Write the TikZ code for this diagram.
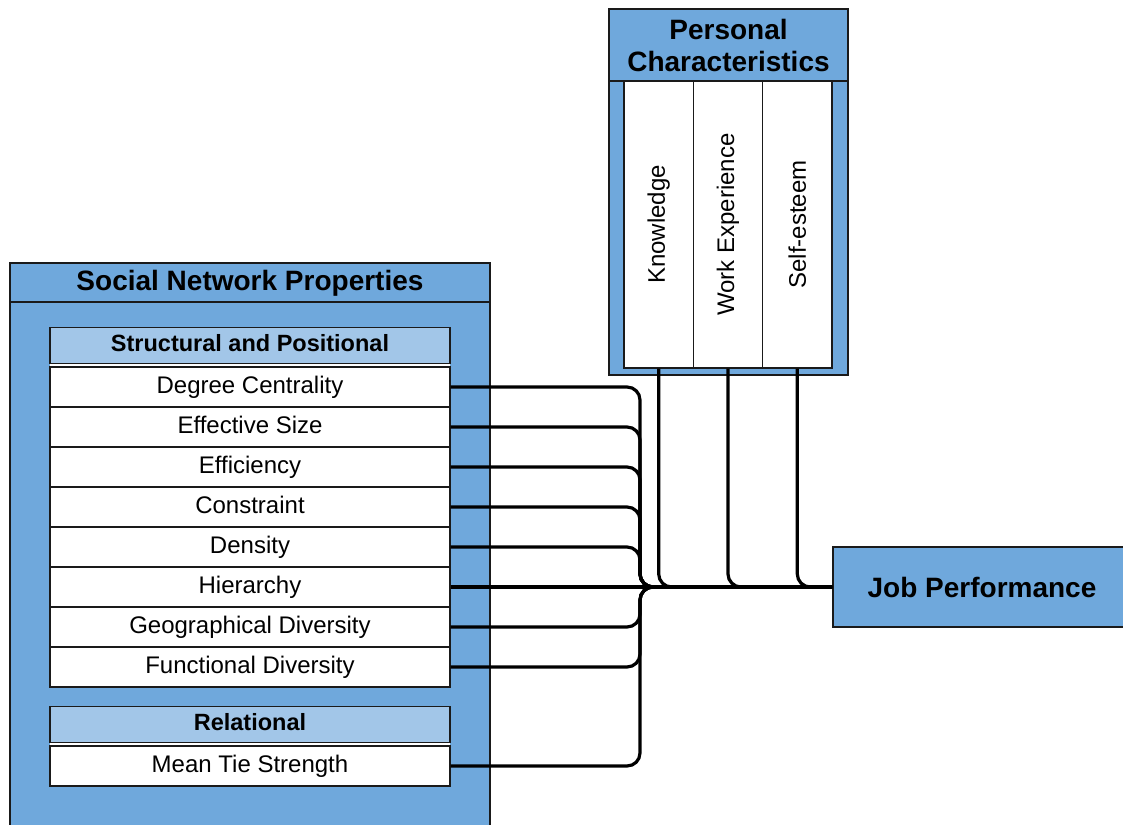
\documentclass[tikz,border=0pt]{standalone}
\usepackage{fontspec}
\setmainfont{Liberation Sans}
\usepackage{graphicx}
\definecolor{nblue}{HTML}{6FA8DC}
\definecolor{lblue}{HTML}{A2C6E8}
\definecolor{edgec}{HTML}{1A1A1A}
\begin{document}
\begin{tikzpicture}[x=1pt,y=-1pt,
  outerbox/.style={draw=edgec, line width=1.8pt, fill=nblue},
  sepline/.style={draw=edgec, line width=1.6pt},
  hdr/.style={draw=edgec, line width=1.3pt, fill=lblue, minimum width=400pt, minimum height=36pt, inner sep=0pt, text height=17pt, text depth=5pt, font=\fontsize{23.5}{27}\selectfont\bfseries},
  rowbox/.style={draw=edgec, line width=1.3pt, fill=white, minimum width=400pt, minimum height=40pt, inner sep=0pt, text height=17.5pt, text depth=5pt, font=\fontsize{24}{28}\selectfont},
  titletext/.style={inner sep=0pt, font=\fontsize{28}{32}\selectfont\bfseries, align=center},
  colbox/.style={draw=edgec, line width=1.3pt, fill=white, minimum width=69.3pt, minimum height=287pt, inner sep=0pt, font=\fontsize{24}{28}\selectfont},
  jpbox/.style={draw=edgec, line width=1.6pt, fill=nblue, minimum width=298pt, minimum height=80pt, inner sep=0pt, font=\fontsize{28}{32}\selectfont\bfseries},
  conn/.style={draw=black, line width=3.2pt, rounded corners=13pt}
]
\useasboundingbox (0,0) rectangle (1123,824);
\fill[white] (0,0) rectangle (1123,824);
\clip (0,0) rectangle (1123,824);

% Social Network Properties container
\path[outerbox] (10,263) rectangle (490,850);
\node[titletext] (snp) at (250,283) {Social Network Properties};
\draw[sepline] (10,302) -- (490,302);

% Structural and Positional list
\fill[white] (50,328) rectangle (450,687);
\node[hdr] (sp) at (250,345.5) {Structural and Positional};
\node[rowbox] (r1) at (250,387) {Degree Centrality};
\node[rowbox] (r2) at (250,427) {Effective Size};
\node[rowbox] (r3) at (250,467) {Efficiency};
\node[rowbox] (r4) at (250,507) {Constraint};
\node[rowbox] (r5) at (250,547) {Density};
\node[rowbox] (r6) at (250,587) {Hierarchy};
\node[rowbox] (r7) at (250,627) {Geographical Diversity};
\node[rowbox] (r8) at (250,667) {Functional Diversity};

% Relational list
\fill[white] (50,707) rectangle (450,786);
\node[hdr] (rel) at (250,724.5) {Relational};
\node[rowbox] (mts) at (250,766) {Mean Tie Strength};

% Personal Characteristics container
\path[outerbox] (609,9) rectangle (848,375);
\node[titletext] (pc) at (728.5,45) {Personal\\Characteristics};
\draw[sepline] (609,81) -- (848,81);
\node[colbox] (kn) at (658.7,224.5) {\rotatebox{90}{Knowledge}};
\node[colbox] (we) at (728,224.5) {\rotatebox{90}{Work Experience}};
\node[colbox] (se) at (797.3,224.5) {\rotatebox{90}{Self-esteem}};

% Job Performance
\node[jpbox] (jp) at (982,587) {Job Performance};

% Connectors
\coordinate (bus) at (640,587);
\foreach \r in {r1,r2,r3,r4,r5,r7,r8,mts}
  \draw[conn] (\r.east) -| (bus) -- (jp.west);
\draw[conn] (r6.east) -- (jp.west);
\foreach \c in {kn,we,se}
  \draw[conn] (\c.south) |- (jp.west);
\end{tikzpicture}
\end{document}
